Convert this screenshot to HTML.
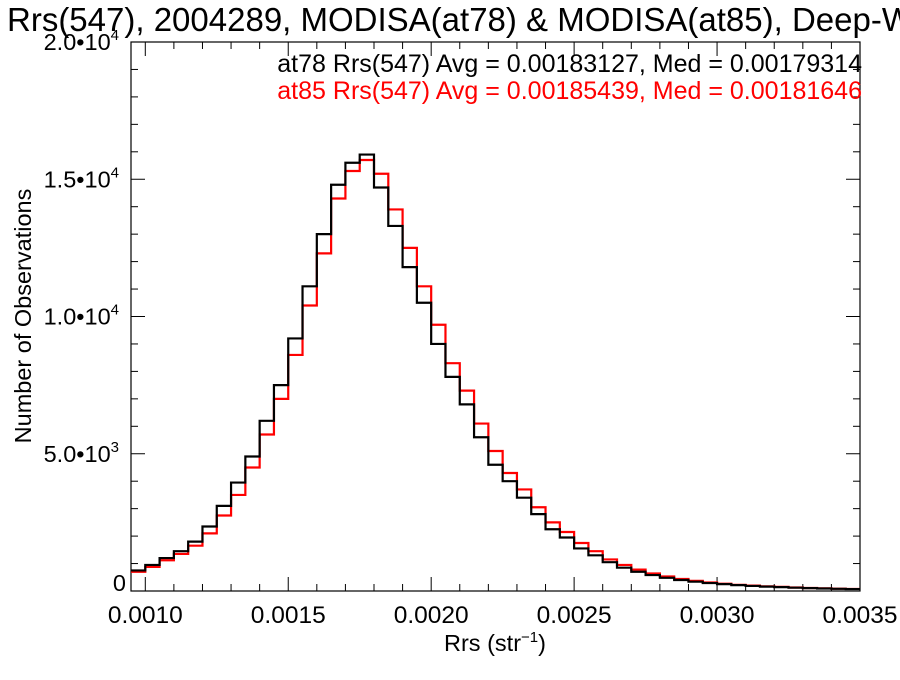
<!DOCTYPE html>
<html><head><meta charset="utf-8"><style>
body{margin:0;background:#fff}
svg text{font-family:"Liberation Sans",Helvetica,sans-serif}
</style></head><body>
<svg id="chart" width="900" height="675" xmlns="http://www.w3.org/2000/svg">
<text x="7" y="31" font-size="33">Rrs(547), 2004289, MODISA(at78) &amp; MODISA(at85), Deep-Water</text>
<g id="axes"></g>
<g id="series"></g>
<text x="862" y="72" font-size="25" text-anchor="end" fill="#000">at78 Rrs(547) Avg = 0.00183127, Med = 0.00179314</text>
<text x="862" y="99" font-size="25" text-anchor="end" fill="#f00">at85 Rrs(547) Avg = 0.00185439, Med = 0.00181646</text>
<text x="495" y="651" font-size="23.5" text-anchor="middle">Rrs (str<tspan font-size="15" dy="-9">−1</tspan><tspan dy="9">)</tspan></text>
<text transform="translate(31,316) rotate(-90)" font-size="23.5" text-anchor="middle">Number of Observations</text>
</svg>
<script>
const binStart = 0.00095;
const binWidth = 0.00005;
const at78Counts = [750,950,1200,1450,1800,2350,3100,3950,4900,6200,7500,9200,11100,13000,14800,15600,15900,14700,13300,11800,10500,9000,7800,6800,5600,4600,4000,3400,2800,2250,1950,1550,1300,1050,850,700,580,480,400,340,290,250,215,185,160,140,120,105,90,80,70];
const at85Counts = [700,880,1120,1350,1650,2100,2750,3500,4500,5700,7000,8600,10400,12300,14300,15300,15700,15200,13900,12500,11100,9700,8300,7300,6100,5100,4300,3700,3050,2500,2150,1750,1450,1150,950,780,640,530,440,370,310,265,225,195,170,150,128,110,95,85,75];
const xTickValues = [0.0010,0.0015,0.0020,0.0025,0.0030,0.0035];
const xTickLabels = ["0.0010","0.0015","0.0020","0.0025","0.0030","0.0035"];
const yTickValues = [0,5000,10000,15000,20000];
const yTickMant = ["0","5.0","1.0","1.5","2.0"];
const yTickExp = ["","3","4","4","4"];

const L=131,R=860,T=42,B=591;
const xMin=0.00095,xMax=0.0035,yMin=0,yMax=20000;
const xs=v=>L+(v-xMin)/(xMax-xMin)*(R-L);
const ys=v=>B-(v-yMin)/(yMax-yMin)*(B-T);
const NS="http://www.w3.org/2000/svg";
function mk(tag,attrs,parent){const e=document.createElementNS(NS,tag);for(const k in attrs)e.setAttribute(k,attrs[k]);parent.appendChild(e);return e;}
const axes=document.getElementById('axes');
const frame=mk('rect',{x:L,y:T,width:R-L,height:B-T,fill:'none',stroke:'#000','stroke-width':1.2},axes);


for(let i=0;i<=25;i++){const v=0.0010+i*0.0001; if(v>xMax+1e-9)break; const x=xs(v); const major=(i%5===0); const len=major?14:7;
 const t1=mk('line',{x1:x,x2:x,y1:B,y2:B-len,stroke:'#000'},axes);
 
 
 const t2=mk('line',{x1:x,x2:x,y1:T,y2:T+len,stroke:'#000'},axes);
 
 }
xTickValues.forEach((v,i)=>{const t=mk('text',{x:xs(v),y:623,'font-size':24.5,'text-anchor':'middle'},axes);t.textContent=xTickLabels[i];
 
 });
for(let v=0;v<=20000;v+=1000){const y=ys(v);const major=(v%5000===0);const len=major?14:7;
 const t1=mk('line',{x1:L,x2:L+len,y1:y,y2:y,stroke:'#000'},axes);
 
 
 const t2=mk('line',{x1:R,x2:R-len,y1:y,y2:y,stroke:'#000'},axes);
 
 }
yTickValues.forEach((v,i)=>{const y=ys(v);const t=mk('text',{x:119,y:y+(i===0?0:8),'font-size':23.5,'text-anchor':'end'},axes);
 if(yTickExp[i]===''){t.textContent=yTickMant[i];t.setAttribute('x',126);}else{t.innerHTML=yTickMant[i]+'•10<tspan font-size="15" dy="-10">'+yTickExp[i]+'</tspan>';}
 
 });
const series=document.getElementById('series');
function hist(counts,color,name){let d='';counts.forEach((c,i)=>{const x0=xs(binStart+i*binWidth),x1=xs(binStart+(i+1)*binWidth),y=ys(c);d+=(i===0?'M':'L')+x0+','+y+'L'+x1+','+y;});
 const p=mk('path',{d:d,fill:'none',stroke:color,'stroke-width':2.2},series);
 
 }
hist(at85Counts,'#f00','at85-histogram');
hist(at78Counts,'#000','at78-histogram');
</script>
</body></html>
